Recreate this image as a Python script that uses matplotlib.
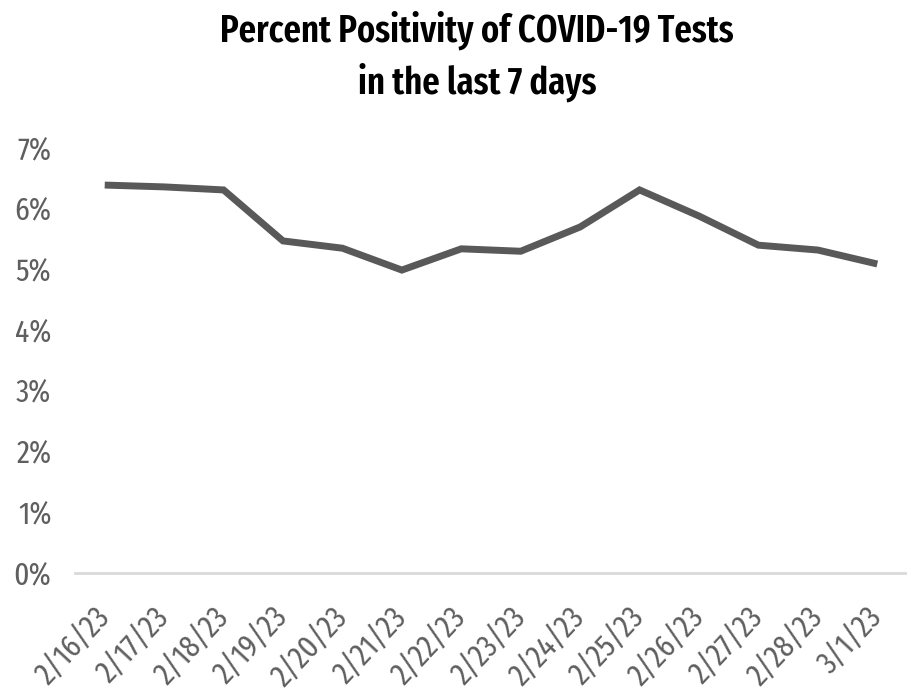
import matplotlib
matplotlib.use("Agg")
import matplotlib.pyplot as plt
from matplotlib.ticker import PercentFormatter

dates = ["2/16/23", "2/17/23", "2/18/23", "2/19/23", "2/20/23", "2/21/23", "2/22/23",
         "2/23/23", "2/24/23", "2/25/23", "2/26/23", "2/27/23", "2/28/23", "3/1/23"]
positivity = [6.39, 6.36, 6.31, 5.47, 5.35, 4.99, 5.34, 5.30, 5.70, 6.31, 5.88, 5.40, 5.32, 5.09]
yticks = [0, 1, 2, 3, 4, 5, 6, 7]

plt.rcParams['font.family'] = ['Fira Sans Extra Condensed', 'Roboto Condensed', 'DejaVu Sans']

fig = plt.figure(figsize=(9.07, 6.95), dpi=100)
ax = fig.add_axes([0.0827, 0.1755, 0.9173, 0.6115])

x = list(range(len(dates)))
ax.plot(x, positivity, color="#595959", linewidth=5, solid_capstyle="butt", solid_joinstyle="miter")

ax.set_xlim(-0.5, len(dates) - 0.5)
ax.set_ylim(0, 7)
ax.set_yticks(yticks)
ax.yaxis.set_major_formatter(PercentFormatter(decimals=0))
ax.set_xticks(x)
ax.set_xticklabels(dates, rotation=47, ha="right", va="center", rotation_mode="anchor")

for s in ["top", "right", "left"]:
    ax.spines[s].set_visible(False)
ax.spines["bottom"].set_color("#d9d9d9")
ax.spines["bottom"].set_linewidth(2)
ax.tick_params(axis="both", length=0, colors="#5f5f5f", labelsize=23)
for lab in ax.get_xticklabels() + ax.get_yticklabels():
    lab.set_fontweight("normal")
ax.tick_params(axis="y", pad=17)
ax.tick_params(axis="x", pad=28)

fig.text(0.526, 0.985, "Percent Positivity of COVID-19 Tests\nin the last 7 days",
         ha="center", va="top", fontsize=27, fontweight="semibold", color="black",
         linespacing=1.4)

fig.savefig("out.png", dpi=100)
